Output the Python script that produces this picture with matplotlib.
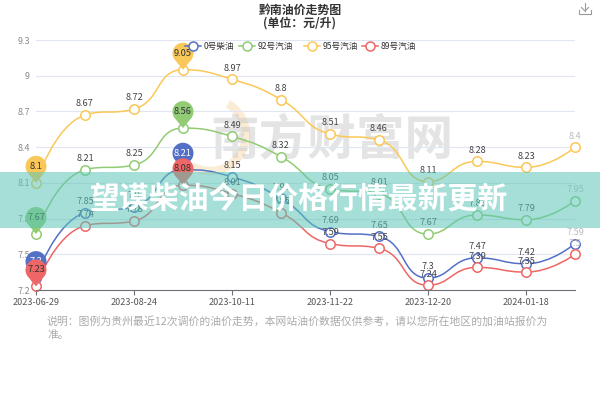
import numpy as np
import matplotlib
matplotlib.use('Agg')
import matplotlib.pyplot as plt
from matplotlib.path import Path
from matplotlib.patches import PathPatch, Rectangle, Polygon, Arc
from matplotlib.lines import Line2D

plt.rcParams['font.family'] = ['Noto Sans CJK SC', 'DejaVu Sans']

# ---------------- data ----------------
dates = ['2023-06-29', '2023-07-27', '2023-08-24', '2023-09-21', '2023-10-11', '2023-10-25',
         '2023-11-22', '2023-12-06', '2023-12-20', '2024-01-03', '2024-01-18', '2024-02-01']
series_names = ['0号柴油', '92号汽油', '95号汽油', '89号汽油']
diesel0 = [7.30, 7.85, 7.90, 8.21, 8.15, 7.97, 7.69, 7.65, 7.30, 7.47, 7.42, 7.59]
gas92 = [7.67, 8.21, 8.25, 8.56, 8.49, 8.32, 8.05, 8.01, 7.67, 7.83, 7.79, 7.95]
gas95 = [8.10, 8.67, 8.72, 9.05, 8.97, 8.80, 8.51, 8.46, 8.11, 8.28, 8.23, 8.40]
gas89 = [7.23, 7.74, 7.78, 8.08, 8.01, 7.85, 7.59, 7.55, 7.24, 7.39, 7.35, 7.50]
yticks = [7.2, 7.5, 7.8, 8.1, 8.4, 8.7, 9.0, 9.3]
title1 = '黔南油价走势图'
title2 = '(单位：元/升)'
banner_text = '望谟柴油今日价格行情最新更新'
watermark = '南方财富网'
note1 = '说明：图例为贵州最近12次调价的油价走势，本网站油价数据仅供参考，请以您所在地区的加油站报价为'
note2 = '准。'

colors = ['#5470c6', '#91cc75', '#fac858', '#ee6666']
pin_text_colors = ['#ffffff', '#333333', '#333333', '#333333']
all_series = [diesel0, gas92, gas95, gas89]

# ---------------- figure ----------------
W, H = 600, 400
fig = plt.figure(figsize=(6, 4), dpi=100)

bg = fig.add_axes([0, 0, 1, 1])
bg.set_xlim(0, W); bg.set_ylim(H, 0); bg.axis('off')
bg.set_zorder(0)

L, R, T, B = 36, 575, 40, 290
ax = fig.add_axes([L / W, 1 - B / H, (R - L) / W, (B - T) / H])
ax.set_zorder(1)
ax.patch.set_alpha(0)
x = np.arange(len(dates))
ax.set_xlim(0, len(dates) - 1)
ax.set_ylim(yticks[0], yticks[-1])
for s in ['top', 'right', 'left']:
    ax.spines[s].set_visible(False)
ax.spines['bottom'].set_color('#6e7079')
ax.spines['bottom'].set_linewidth(0.8)
ax.set_yticks(yticks)
ax.set_yticklabels([f'{v:g}' for v in yticks])
ax.yaxis.grid(True, color='#e0e6f1', lw=0.8)
ax.set_axisbelow(True)
ax.tick_params(axis='y', length=0, pad=4.5, labelsize=6.5, labelcolor='#8a8a8a')
ax.set_xticks(x[::2])
ax.set_xticklabels(dates[::2])
ax.tick_params(axis='x', length=3.5, width=0.8, color='#6e7079', pad=2, labelsize=6.5,
               labelcolor='#555555')

# watermark
bg.text(332, 140, watermark, fontsize=35, color='#c4c4c4', alpha=0.45, ha='center',
        va='center', fontweight='bold')
bg.add_patch(Arc((210, 135), 72, 72, theta1=-60, theta2=120, color='#f3c27a', alpha=0.3, lw=6))


def smooth_path(xs, ys, smooth=0.5):
    pts = ax.transData.transform(np.column_stack([xs, ys]))
    n = len(pts)
    verts = [tuple(pts[0])]
    codes = [Path.MOVETO]
    cp0 = pts[0].copy()
    for i in range(1, n):
        xx, yy = pts[i]
        px, py = pts[i - 1]
        if i == n - 1:
            cp1 = np.array([xx, yy]); ncp0 = None
        else:
            nx, ny = pts[i + 1]
            vx, vy = nx - px, ny - py
            d0 = np.hypot(xx - px, yy - py); d1 = np.hypot(nx - xx, ny - yy)
            r = d1 / (d0 + d1)
            ncx = xx + vx * smooth * r; ncy = yy + vy * smooth * r
            ncx = min(ncx, max(nx, xx)); ncy = min(ncy, max(ny, yy))
            ncx = max(ncx, min(nx, xx)); ncy = max(ncy, min(ny, yy))
            vx = ncx - xx; vy = ncy - yy
            c1x = xx - vx * d0 / d1; c1y = yy - vy * d0 / d1
            c1x = min(c1x, max(px, xx)); c1y = min(c1y, max(py, yy))
            c1x = max(c1x, min(px, xx)); c1y = max(c1y, min(py, yy))
            vx = xx - c1x; vy = yy - c1y
            ncx = xx + vx * d1 / d0; ncy = yy + vy * d1 / d0
            cp1 = np.array([c1x, c1y]); ncp0 = np.array([ncx, ncy])
        verts += [tuple(cp0), tuple(cp1), (xx, yy)]
        codes += [Path.CURVE4] * 3
        cp0 = ncp0
    verts = ax.transData.inverted().transform(np.array(verts))
    return Path(verts, codes)


def pin(xv, yv, color, text, tcolor, z):
    px, py = ax.transData.transform((xv, yv))
    h, r = 16.5, 10.5
    a = np.arccos(r / h)
    cy = py + h
    t = np.linspace(-np.pi / 2 + a, 1.5 * np.pi - a, 80)
    arc = np.column_stack([px + r * np.cos(t), cy + r * np.sin(t)])
    verts = np.vstack([arc, [[px, py]]])
    data = ax.transData.inverted().transform(verts)
    ax.add_patch(Polygon(data, closed=True, fc=color, ec='none', zorder=z, clip_on=False))
    tx, ty = ax.transData.inverted().transform((px, cy))
    ax.text(tx, ty, text, ha='center', va='center', fontsize=6.7, color=tcolor,
            zorder=z + 0.1, clip_on=False)


for k, (vals, c) in enumerate(zip(all_series, colors)):
    vals = np.array(vals)
    p = smooth_path(x, vals)
    ax.add_patch(PathPatch(p, fill=False, ec=c, lw=1.1, zorder=2 + k * 0.1, clip_on=False))
    ax.plot(x, vals, 'o', ms=6.8, mfc='white', mec=c, mew=1.1, ls='none',
            zorder=2.05 + k * 0.1, clip_on=False)
    imin = int(np.argmin(vals)); imax = int(np.argmax(vals))
    for i, v in enumerate(vals):
        if i in (imin, imax):
            continue
        col = '#bbbbbb' if i == len(vals) - 1 else '#444444'
        ax.annotate(f'{v:g}', (i, v), xytext=(0, 8), textcoords='offset points',
                    ha='center', va='center', fontsize=6.6, color=col, zorder=3)

for k, (vals, c) in enumerate(zip(all_series, colors)):
    vals = np.array(vals)
    imin = int(np.argmin(vals)); imax = int(np.argmax(vals))
    for i in (imax, imin):
        pin(i, vals[i], c, f'{vals[i]:g}', pin_text_colors[k], 5 + k * 0.2)

# ---------------- foreground overlay ----------------
fg = fig.add_axes([0, 0, 1, 1])
fg.set_zorder(10)
fg.set_xlim(0, W); fg.set_ylim(H, 0); fg.axis('off')
fg.patch.set_alpha(0)

fg.text(300, 10, title1, ha='center', va='center', fontsize=8.6, fontweight='bold', color='#333333')
fg.text(300, 23, title2, ha='center', va='center', fontsize=8.6, fontweight='bold', color='#333333')

# download icon
ic = '#9a9a9a'
fg.add_line(Line2D([585, 585], [3, 11], color=ic, lw=0.8))
fg.add_line(Line2D([581.5, 585, 588.5], [7.5, 11, 7.5], color=ic, lw=0.8))
fg.add_line(Line2D([579, 579, 591, 591], [10, 14, 14, 10], color=ic, lw=0.8))

# legend
leg_x = [193, 247, 312, 370]
for cx, name, c in zip(leg_x, series_names, colors):
    fg.add_line(Line2D([cx - 8, cx + 8], [46, 46], color=c, lw=1.1))
    fg.plot([cx], [46], 'o', ms=6.5, mfc='white', mec=c, mew=1.1)
    fg.text(cx + 11, 46.5, name, ha='left', va='center', fontsize=6.2, color='#333333')

# banner
fg.add_patch(Rectangle((0, 172), W, 56, fc='#5cc5b8', ec='none', alpha=0.55))
fg.text(299, 200, banner_text, ha='center', va='center', fontsize=21.5, fontweight='bold',
        color='white')

# footer note
fg.text(47, 321, note1, ha='left', va='center', fontsize=7.8, color='#aaaaaa')
fg.text(47, 335, note2, ha='left', va='center', fontsize=7.8, color='#aaaaaa')

fig.savefig('out.png', dpi=100)
